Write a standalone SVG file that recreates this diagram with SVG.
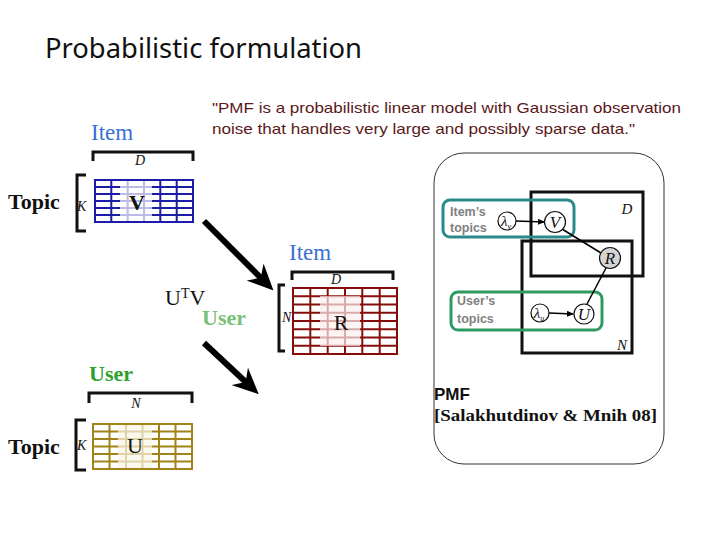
<svg xmlns="http://www.w3.org/2000/svg" width="720" height="540" viewBox="0 0 720 540">
<defs>
<style>
.title{font-family:"Noto Sans","Open Sans",sans-serif;font-size:27px;fill:#111}
.quote{font-family:"Liberation Sans",Arial,sans-serif;font-size:15px;fill:#5a1818}
.topic{font-family:"Liberation Serif","Times New Roman",serif;font-size:22px;font-weight:bold;fill:#111}
.item{font-family:"Liberation Serif","Times New Roman",serif;font-size:23px;fill:#3b6fd6}
.user{font-family:"Liberation Serif","Times New Roman",serif;font-size:22px;font-weight:bold;fill:#2ea02e}
.dim{font-family:"Liberation Serif","Times New Roman",serif;font-size:14px;font-style:italic;fill:#111}
.cell{font-family:"Liberation Serif","Times New Roman",serif;font-size:22px;fill:#111;text-anchor:middle}
.brk{fill:none;stroke:#111;stroke-width:3}
.vg{stroke:#1c1ca8;stroke-width:2;fill:none}
.rg{stroke:#860c0c;stroke-width:2;fill:none}
.ug{stroke:#a08418;stroke-width:2;fill:none}
.hl{fill:#ffffff;opacity:0.7}
.box{fill:none;stroke-width:3}
.plate{fill:none;stroke:#111;stroke-width:3}
.node{fill:#fff;stroke:#111;stroke-width:1.2}
.gtxt{font-family:"Liberation Sans",Arial,sans-serif;font-size:12.5px;font-weight:bold;fill:#808080}
.math{font-family:"Liberation Serif","Times New Roman",serif;font-style:italic;fill:#111;text-anchor:middle}
.big{stroke:#000;stroke-width:6;fill:none}
.thin{stroke:#000;stroke-width:1.5;fill:none}
</style>
<marker id="bigHead" markerUnits="userSpaceOnUse" markerWidth="26" markerHeight="24" viewBox="0 0 26 24" refX="14" refY="12" orient="auto">
<path d="M0,0 L26,12 L0,24 L8,12 z" fill="#000"/>
</marker>
<marker id="smallHead" markerUnits="userSpaceOnUse" markerWidth="7" markerHeight="6" viewBox="0 0 7 6" refX="6" refY="3" orient="auto">
<path d="M0,0 L7,3 L0,6 z" fill="#000"/>
</marker>
</defs>
<rect width="720" height="540" fill="#fff"/>

<g id="title"><text class="title" x="45" y="58" textLength="317" lengthAdjust="spacingAndGlyphs">Probabilistic formulation</text></g>

<g id="quote">
<text class="quote" x="212" y="113" textLength="469" lengthAdjust="spacingAndGlyphs">"PMF is a probabilistic linear model with Gaussian observation</text>
<text class="quote" x="212" y="134" textLength="423" lengthAdjust="spacingAndGlyphs">noise that handles very large and possibly sparse data."</text>
</g>

<g id="matrix-V">
<text class="item" x="91" y="140">Item</text>
<path class="brk" d="M93,161 V152 H193 V161"/>
<text class="dim" x="140" y="165" text-anchor="middle">D</text>
<text class="topic" x="8" y="209">Topic</text>
<path class="brk" d="M86,175 H77 V231 H86"/>
<text class="dim" x="77" y="211">K</text>
<rect class="vg" x="95" y="180" width="98" height="42"/>
<path class="vg" d="M111.3,180V222M127.7,180V222M144,180V222M160.3,180V222M176.7,180V222M95,187H193M95,194H193M95,201H193M95,208H193M95,215H193"/>
<rect class="hl" x="120" y="181" width="32" height="40"/>
<text class="cell" x="137" y="210" font-weight="bold" font-size="20">V</text>
</g>

<g id="matrix-R">
<text class="item" x="289" y="260">Item</text>
<text x="165" y="305" font-family="Liberation Serif, serif" font-size="22" fill="#111">U<tspan font-size="14" dy="-7">T</tspan><tspan dy="7">V</tspan></text>
<text class="user" x="202" y="325" opacity="0.65">User</text>
<path class="brk" d="M292,280 V272 H393 V280"/>
<text class="dim" x="336" y="284" text-anchor="middle">D</text>
<path class="brk" d="M285,285 H279 V351 H285"/>
<text class="dim" x="282" y="322">N</text>
<rect class="rg" x="293" y="288" width="104" height="66"/>
<path class="rg" d="M310.3,288V354M327.7,288V354M345,288V354M362.3,288V354M379.7,288V354M293,296.25H397M293,304.5H397M293,312.75H397M293,321H397M293,329.25H397M293,337.5H397M293,345.75H397"/>
<rect class="hl" x="320" y="296" width="40" height="50" style="fill:#fbeeee"/>
<text class="cell" x="341" y="330">R</text>
</g>

<g id="matrix-U">
<text class="user" x="89" y="381">User</text>
<path class="brk" d="M89,403 V393 H192 V403"/>
<text class="dim" x="136" y="408" text-anchor="middle">N</text>
<text class="topic" x="8" y="454">Topic</text>
<path class="brk" d="M86,420 H76 V470 H86"/>
<text class="dim" x="77" y="450">K</text>
<rect class="ug" x="93" y="424" width="99" height="45"/>
<path class="ug" d="M109.5,424V469M126,424V469M142.5,424V469M159,424V469M175.5,424V469M93,431.5H192M93,439H192M93,446.5H192M93,454H192M93,461.5H192"/>
<rect class="hl" x="118" y="425" width="34" height="43" style="fill:#f8f4e6"/>
<text class="cell" x="135" y="453">U</text>
</g>

<g id="pmf-panel">
<rect x="434" y="153" width="230" height="311" rx="30" fill="none" stroke="#333" stroke-width="1"/>
<rect class="plate" x="531" y="192" width="112" height="84"/>
<text class="math" x="627" y="214" font-size="15">D</text>
<rect class="plate" x="522" y="241" width="110" height="112"/>
<text class="math" x="622" y="350" font-size="15">N</text>
<rect class="box" x="443" y="200" width="131" height="37" rx="7" stroke="#2a8a8a"/>
<text class="gtxt" x="450" y="216">Item’s</text>
<text class="gtxt" x="450" y="232">topics</text>
<rect class="box" x="451" y="292" width="151" height="38" rx="7" stroke="#2e9960"/>
<text class="gtxt" x="457" y="305">User’s</text>
<text class="gtxt" x="457" y="323">topics</text>
<text x="434" y="400" font-family="Liberation Sans, Arial, sans-serif" font-weight="bold" font-size="17" fill="#111">PMF</text>
<text x="434" y="421" font-family="Liberation Serif, serif" font-weight="bold" font-size="16" fill="#111" textLength="223" lengthAdjust="spacingAndGlyphs">[Salakhutdinov &amp; Mnih 08]</text>
</g>

<g id="connectors">
<line class="big" x1="204" y1="221" x2="265" y2="282" marker-end="url(#bigHead)"/>
<line class="big" x1="204" y1="343" x2="250" y2="386" marker-end="url(#bigHead)"/>
<line class="thin" x1="516" y1="221" x2="544" y2="222" marker-end="url(#smallHead)"/>
<line class="thin" x1="562" y1="229" x2="601" y2="253"/>
<line class="thin" x1="587" y1="304" x2="606" y2="268"/>
<line class="thin" x1="549" y1="313" x2="573" y2="314" marker-end="url(#smallHead)"/>
</g>

<g id="node-lambda-v"><circle class="node" cx="507" cy="221" r="9"/><text class="math" x="506" y="226" font-size="15">λ<tspan font-size="8" dy="3">v</tspan></text></g>
<g id="node-V"><circle class="node" cx="555" cy="222" r="10.5"/><text class="math" x="555" y="228" font-size="17">V</text></g>
<g id="node-R"><circle class="node" cx="610" cy="258" r="10.5" style="fill:#d4d4d4"/><text class="math" x="610" y="264" font-size="17">R</text></g>
<g id="node-lambda-u"><circle class="node" cx="540" cy="313" r="9"/><text class="math" x="539" y="318" font-size="15">λ<tspan font-size="8" dy="3">u</tspan></text></g>
<g id="node-U"><circle class="node" cx="584" cy="314" r="10"/><text class="math" x="584" y="320" font-size="17">U</text></g>
</svg>
